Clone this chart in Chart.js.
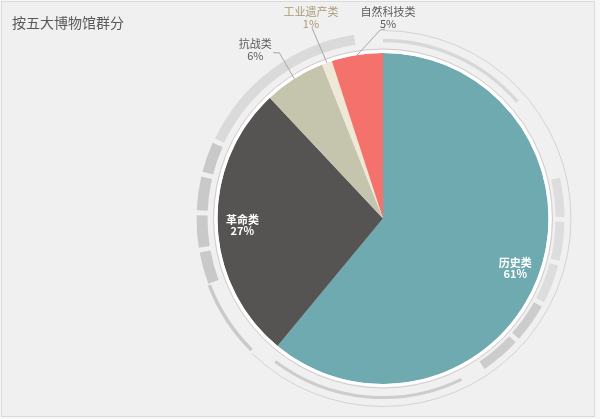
<!DOCTYPE html>
<html>
<head>
<meta charset="utf-8">
<script src="https://cdn.jsdelivr.net/npm/chart.js"></script>
<style>
  html, body { margin: 0; padding: 0; background: #f7f7f7; }
  #wrap { position: relative; width: 600px; height: 419px; overflow: hidden; }
  #frame { position: absolute; left: 1px; top: 1px; width: 592px; height: 414px; border: 1px solid #dadada; background: #f0f0f0; }
  canvas { position: absolute; left: 0; top: 0; }
</style>
</head>
<body>
<div id="wrap">
  <div id="frame"></div>
  <canvas id="myChart" width="600" height="419"></canvas>
</div>
<script>
const title = "按五大博物馆群分";
const categories = ["历史类", "革命类", "抗战类", "工业遗产类", "自然科技类"];
const shares = [61, 27, 6, 1, 5];
const sliceColors = ["#6eaab0", "#565452", "#c5c5ae", "#efe8d6", "#f4716c"];

// label look: inside labels are white, the small ones sit outside with a leader
const labelInside = [true, true, false, false, false];
const labelColors = ["#ffffff", "#ffffff", "#595959", "#a89a72", "#595959"];
// offset of an outside label from the slice edge, and where its leader starts
const labelOffsets = [null, null, [-39, -29], [-16, -45], [31, -37]];
const leaderTails = [null, null, [[18, 3], [24, 3]], [[1, 10], [1, 10]], [[-3, 11], [-8, 12]]];

// decorative rings round the pie: [offset from radius, width, from deg, to deg, colour]
const rings = [
  [1.6, 3.2, 0, 360, "#ffffff"],
  [4, 1, 0, 360, "#d3c9cd"],
  [12.5, 3.5, 0, 49, "#d8d8d8"],
  [11.5, 9, 77, 89.5, "#dddddd"],
  [11.5, 9, 91, 103.5, "#dddddd"],
  [11.5, 9, 105, 117.5, "#dddddd"],
  [11.5, 9, 119, 131.5, "#cccccc"],
  [11.5, 9, 133, 146, "#cccccc"],
  [13.5, 3, 154, 217, "#cdcdcd"],
  [22.5, 1, 0, 224, "#d2d2d2"],
  [20.5, 3.5, 225, 249, "#cacaca"],
  [15.5, 11, 249.5, 259.5, "#c9c9c9"],
  [15.5, 11, 261, 271, "#c9c9c9"],
  [15.5, 11, 272.5, 283, "#c9c9c9"],
  [15.5, 11, 284.5, 294, "#c9c9c9"],
  [15.5, 10, 295.5, 351, "#dadada"],
];

const FONT = '"Noto Sans CJK SC", "Microsoft YaHei", sans-serif';
const rad = (deg) => (deg - 90) * Math.PI / 180;

const decor = {
  id: "decor",
  afterDatasetsDraw(chart) {
    const ctx = chart.ctx;
    const arcs = chart.getDatasetMeta(0).data;
    const cx = arcs[0].x, cy = arcs[0].y, R = arcs[0].outerRadius;
    ctx.save();
    ctx.lineCap = "butt";
    rings.forEach(([off, w, a0, a1, col]) => {
      ctx.beginPath();
      ctx.strokeStyle = col;
      ctx.lineWidth = w;
      ctx.arc(cx, cy, R + off, rad(a0), rad(a1));
      ctx.stroke();
    });

    ctx.textAlign = "center";
    ctx.textBaseline = "middle";
    const total = shares.reduce((a, b) => a + b, 0);
    arcs.forEach((arc, i) => {
      const mid = (arc.startAngle + arc.endAngle) / 2;
      const pct = Math.round(shares[i] / total * 100) + "%";
      if (labelInside[i]) {
        const r = R * 0.85;
        const x = cx + Math.cos(mid) * r, y = cy + Math.sin(mid) * r;
        ctx.fillStyle = labelColors[i];
        ctx.font = "bold 11px " + FONT;
        ctx.fillText(categories[i], x, y - 3.5);
        ctx.fillText(pct, x, y + 8);
      } else {
        const ex = cx + Math.cos(mid) * R, ey = cy + Math.sin(mid) * R;
        const lx = ex + labelOffsets[i][0], ly = ey + labelOffsets[i][1];
        ctx.fillStyle = labelColors[i];
        ctx.font = "11px " + FONT;
        ctx.fillText(categories[i], lx, ly - 6);
        ctx.fillText(pct, lx, ly + 6);
        const [t0, t1] = leaderTails[i];
        ctx.beginPath();
        ctx.strokeStyle = "#a6a6a6";
        ctx.lineWidth = 1;
        ctx.moveTo(lx + t0[0], ly + t0[1]);
        ctx.lineTo(lx + t1[0], ly + t1[1]);
        ctx.lineTo(ex, ey);
        ctx.stroke();
      }
    });

    ctx.textAlign = "left";
    ctx.fillStyle = "#595959";
    ctx.font = "14px " + FONT;
    ctx.fillText(title, 12, 23);
    ctx.restore();
  },
};

new Chart(document.getElementById("myChart"), {
  type: "pie",
  data: {
    labels: categories,
    datasets: [
      {
        data: shares,
        backgroundColor: sliceColors,
        borderWidth: 0,
      },
    ],
  },
  options: {
    responsive: false,
    animation: false,
    devicePixelRatio: 1,
    layout: {
      padding: { left: 217.5, right: 51.5, top: 53, bottom: 35 },
    },
    plugins: {
      legend: { display: false },
      tooltip: { enabled: false },
    },
  },
  plugins: [decor],
});
</script>
</body>
</html>
